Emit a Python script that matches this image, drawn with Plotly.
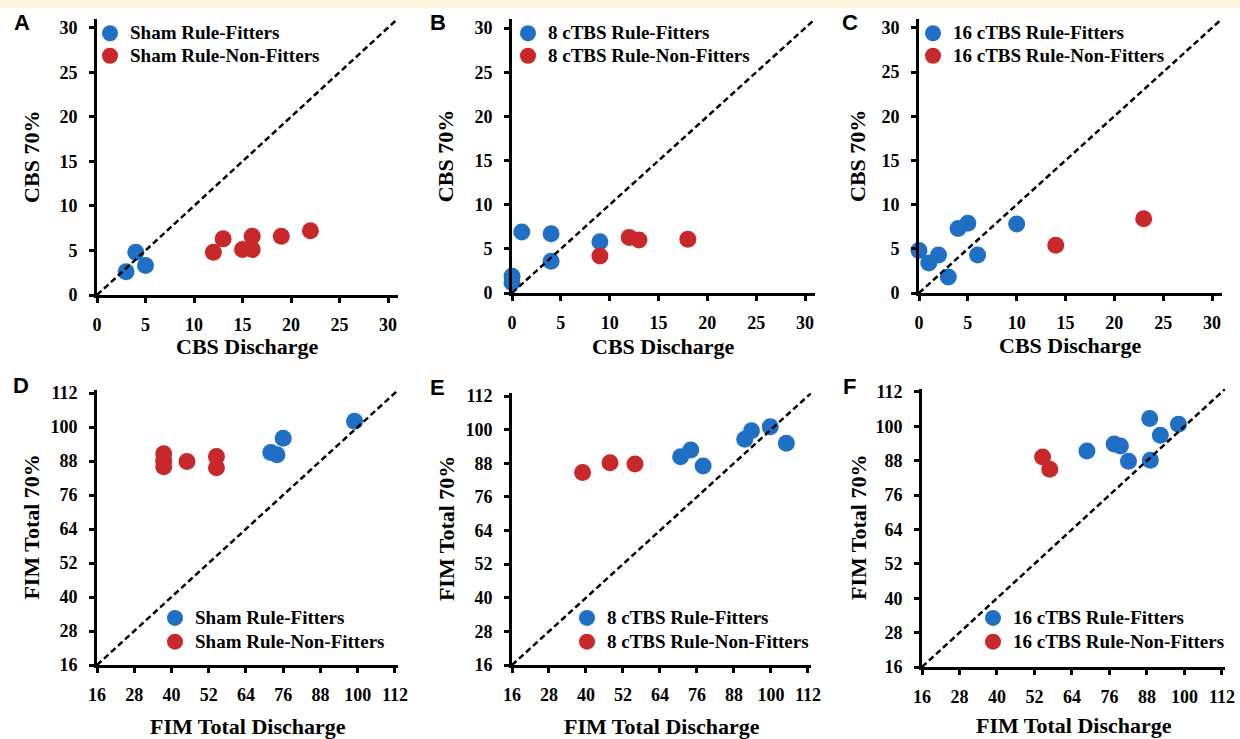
import plotly.graph_objects as go

W, H = 1240, 739

# ---------------- data ----------------
cbs_ticks = [0, 5, 10, 15, 20, 25, 30]
fim_ticks = [16, 28, 40, 52, 64, 76, 88, 100, 112]

a_fit_x = [3, 4, 5]
a_fit_y = [2.6, 4.8, 3.3]
a_non_x = [12, 13, 15, 16, 16, 19, 22]
a_non_y = [4.8, 6.3, 5.1, 6.6, 5.1, 6.6, 7.2]

b_fit_x = [0, 0, 1, 4, 4, 9]
b_fit_y = [1.9, 1.2, 6.9, 6.7, 3.6, 5.8]
b_non_x = [9, 12, 13, 18]
b_non_y = [4.2, 6.3, 6.0, 6.1]

c_fit_x = [0, 1, 2, 3, 4, 5, 6, 10]
c_fit_y = [4.8, 3.4, 4.3, 1.8, 7.3, 7.9, 4.3, 7.8]
c_non_x = [14, 23]
c_non_y = [5.4, 8.4]

d_fit_x = [99, 76, 72, 74]
d_fit_y = [102, 96, 91, 90.2]
d_non_x = [37.5, 37.5, 37.5, 45, 54.5, 54.5]
d_non_y = [90.6, 88, 86, 87.8, 89.6, 85.6]

e_fit_x = [70.7, 74, 78, 91.5, 93.7, 99.8, 105]
e_fit_y = [90.3, 92.7, 87, 96.6, 99.6, 101, 95.1]
e_non_x = [38.9, 47.8, 55.9]
e_non_y = [84.7, 88.2, 87.7]

f_fit_x = [68.8, 77.5, 79.5, 82.1, 88.9, 89.1, 92.3, 98.1]
f_fit_y = [91.4, 93.8, 93.1, 87.8, 102.7, 88.2, 96.9, 100.7]
f_non_x = [54.6, 56.9]
f_non_y = [89.3, 85.0]

names = {
    "A": ("Sham Rule-Fitters", "Sham Rule-Non-Fitters"),
    "B": ("8 cTBS Rule-Fitters", "8 cTBS Rule-Non-Fitters"),
    "C": ("16 cTBS Rule-Fitters", "16 cTBS Rule-Non-Fitters"),
    "D": ("Sham Rule-Fitters", "Sham Rule-Non-Fitters"),
    "E": ("8 cTBS Rule-Fitters", "8 cTBS Rule-Non-Fitters"),
    "F": ("16 cTBS Rule-Fitters", "16 cTBS Rule-Non-Fitters"),
}

BLUE = "#1f6fc5"
RED = "#c9282b"
SERIF = "Liberation Serif"
SANS = "Liberation Sans"

# panel geometry in pixels: (left px, right px, top px, bottom px), range
panels = [
    ("A", (97, 397.7, 18.8, 295), (0, 31), cbs_ticks, a_fit_x, a_fit_y, a_non_x, a_non_y,
     "CBS Discharge", "CBS 70%", (90, 17), (21.5, 22.5), (32, 347)),
    ("B", (512, 814.8, 19.3, 293), (0, 31), cbs_ticks, b_fit_x, b_fit_y, b_non_x, b_non_y,
     "CBS Discharge", "CBS 70%", (508, 17), (438, 22.5), (445, 347)),
    ("C", (919, 1221.8, 19, 293), (0, 31), cbs_ticks, c_fit_x, c_fit_y, c_non_x, c_non_y,
     "CBS Discharge", "CBS 70%", (913, 17), (850, 22.5), (858, 345)),
    ("D", (97, 398, 390.2, 665), (16, 113), fim_ticks, d_fit_x, d_fit_y, d_non_x, d_non_y,
     "FIM Total Discharge", "FIM Total 70%", (155, 601), (21, 385), (32, 726)),
    ("E", (512, 811, 393.2, 665), (16, 113), fim_ticks, e_fit_x, e_fit_y, e_non_x, e_non_y,
     "FIM Total Discharge", "FIM Total 70%", (567, 601), (437, 387), (446, 726)),
    ("F", (922, 1225, 389.1, 667), (16, 113), fim_ticks, f_fit_x, f_fit_y, f_non_x, f_non_y,
     "FIM Total Discharge", "FIM Total 70%", (973, 601), (850, 386), (858, 725)),
]

fig = go.Figure()
annotations = []
layout = {}

for i, (lab, (l, r, t, b), rng, ticks, fx, fy, nx, ny, xt, yt, lg, letter, ttl) in enumerate(panels):
    k = i + 1
    xa = "x" if k == 1 else f"x{k}"
    ya = "y" if k == 1 else f"y{k}"
    lgname = "legend" if k == 1 else f"legend{k}"
    axis_common = dict(
        range=list(rng), tickvals=ticks, showline=True, linecolor="black", linewidth=3,
        ticks="outside", ticklen=5, tickwidth=2.5, tickcolor="black",
        showgrid=False, zeroline=False,
        tickfont=dict(family=SERIF, size=18, color="black", weight="bold"),
    )
    layout["xaxis" if k == 1 else f"xaxis{k}"] = dict(
        domain=[l / W, r / W], anchor=ya, ticklabelstandoff=6, **axis_common)
    layout["yaxis" if k == 1 else f"yaxis{k}"] = dict(
        domain=[1 - b / H, 1 - t / H], anchor=xa, ticklabelstandoff=8, **axis_common)

    fn, nn = names[lab]
    span = '<span style="font-size:19px">%s</span>'
    fig.add_trace(go.Scatter(x=fx, y=fy, mode="markers", name=span % fn, xaxis=xa, yaxis=ya,
                             legend=lgname, cliponaxis=False,
                             marker=dict(color=BLUE, size=17, line=dict(width=0))))
    fig.add_trace(go.Scatter(x=nx, y=ny, mode="markers", name=span % nn, xaxis=xa, yaxis=ya,
                             legend=lgname, cliponaxis=False,
                             marker=dict(color=RED, size=17, line=dict(width=0))))
    fig.add_trace(go.Scatter(x=list(rng), y=list(rng), mode="lines", showlegend=False,
                             xaxis=xa, yaxis=ya, hoverinfo="skip",
                             line=dict(color="black", width=2.5, dash="6px,3.5px")))

    layout[lgname] = dict(
        x=lg[0] / W, y=1 - lg[1] / H, xanchor="left", yanchor="top",
        bgcolor="rgba(0,0,0,0)", borderwidth=0, tracegroupgap=0,
        font=dict(family=SERIF, size=15 if k <= 3 else 16, color="black", weight="bold"),
        itemsizing="trace",
    )

    # panel letter
    annotations.append(dict(text=lab, x=letter[0] / W, y=1 - letter[1] / H, xref="paper", yref="paper",
                            showarrow=False, xanchor="center", yanchor="middle",
                            font=dict(family=SANS, size=22, color="black", weight="bold")))
    # x title
    annotations.append(dict(text=xt, x=((l + r) / 2) / W, y=1 - ttl[1] / H, xref="paper", yref="paper",
                            showarrow=False, xanchor="center", yanchor="middle",
                            font=dict(family=SERIF, size=22, color="black", weight="bold")))
    # y title
    annotations.append(dict(text=yt, x=ttl[0] / W, y=1 - ((t + b) / 2) / H, xref="paper", yref="paper",
                            showarrow=False, xanchor="center", yanchor="middle", textangle=-90,
                            font=dict(family=SERIF, size=22, color="black", weight="bold")))

fig.update_layout(
    width=W, height=H, margin=dict(l=0, r=0, t=0, b=0, autoexpand=False),
    paper_bgcolor="white", plot_bgcolor="white",
    annotations=annotations,
    shapes=[dict(type="rect", xref="paper", yref="paper", x0=0, x1=1, y0=1 - 8 / H, y1=1,
                 fillcolor="#fdf5de", line=dict(width=0), layer="below")],
    **layout,
)

fig.write_html("out.html", config={"displayModeBar": False},
               post_script="document.body.style.margin='0px';document.body.style.overflow='hidden';")
